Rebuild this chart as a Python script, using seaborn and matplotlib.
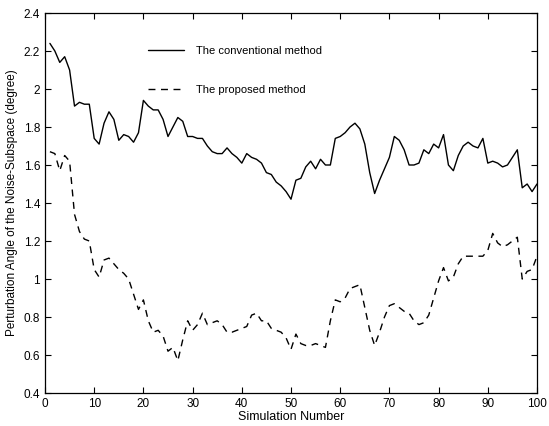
import numpy as np
import pandas as pd
import matplotlib
matplotlib.use("Agg")
import matplotlib.pyplot as plt
import seaborn as sns
from matplotlib.ticker import FuncFormatter

sim = list(range(1, 101))
conventional = [2.24, 2.20, 2.14, 2.17, 2.10, 1.91, 1.93, 1.92, 1.92, 1.74,
                1.71, 1.82, 1.88, 1.84, 1.73, 1.76, 1.75, 1.72, 1.77, 1.94,
                1.91, 1.89, 1.89, 1.84, 1.75, 1.80, 1.85, 1.83, 1.75, 1.75,
                1.74, 1.74, 1.70, 1.67, 1.66, 1.66, 1.69, 1.66, 1.64, 1.61,
                1.66, 1.64, 1.63, 1.61, 1.56, 1.55, 1.51, 1.49, 1.46, 1.42,
                1.52, 1.53, 1.59, 1.62, 1.58, 1.63, 1.60, 1.60, 1.74, 1.75,
                1.77, 1.80, 1.82, 1.79, 1.71, 1.56, 1.45, 1.52, 1.58, 1.64,
                1.75, 1.73, 1.68, 1.60, 1.60, 1.61, 1.68, 1.66, 1.71, 1.69,
                1.76, 1.60, 1.57, 1.65, 1.70, 1.72, 1.70, 1.69, 1.74, 1.61,
                1.62, 1.61, 1.59, 1.60, 1.64, 1.68, 1.48, 1.50, 1.46, 1.50]
proposed = [1.67, 1.66, 1.57, 1.65, 1.62, 1.34, 1.25, 1.21, 1.20, 1.05,
            1.01, 1.10, 1.11, 1.08, 1.05, 1.03, 1.00, 0.92, 0.84, 0.89,
            0.78, 0.72, 0.73, 0.70, 0.62, 0.64, 0.57, 0.68, 0.78, 0.73,
            0.76, 0.82, 0.76, 0.77, 0.78, 0.76, 0.72, 0.72, 0.73, 0.74,
            0.75, 0.81, 0.82, 0.78, 0.78, 0.74, 0.73, 0.72, 0.69, 0.63,
            0.71, 0.66, 0.65, 0.65, 0.66, 0.65, 0.64, 0.78, 0.89, 0.88,
            0.90, 0.95, 0.96, 0.97, 0.85, 0.73, 0.65, 0.72, 0.80, 0.86,
            0.87, 0.85, 0.83, 0.82, 0.78, 0.76, 0.77, 0.81, 0.90, 0.99,
            1.06, 0.99, 1.01, 1.08, 1.12, 1.12, 1.12, 1.12, 1.12, 1.15,
            1.24, 1.19, 1.17, 1.18, 1.20, 1.22, 1.00, 1.04, 1.05, 1.12]
labels = ["The conventional method", "The proposed method"]

df = pd.DataFrame({
    "Simulation Number": sim * 2,
    "angle": conventional + proposed,
    "method": [labels[0]] * len(sim) + [labels[1]] * len(sim),
})

sns.set_style("ticks")
plt.rcParams["font.family"] = ["Liberation Sans", "DejaVu Sans"]
plt.rcParams["text.color"] = "black"
plt.rcParams["axes.labelcolor"] = "black"
plt.rcParams["xtick.color"] = "black"
plt.rcParams["ytick.color"] = "black"

fig = plt.figure(figsize=(5.49, 4.26), dpi=100)
ax = fig.add_axes([45 / 549, 33 / 426, 492 / 549, 380 / 426])

sns.lineplot(data=df, x="Simulation Number", y="angle", hue="method", style="method",
             palette=["black", "black"], dashes={labels[0]: "", labels[1]: (5, 4)},
             linewidth=1.0, ax=ax)

ax.set_xlim(0, 100)
ax.set_ylim(0.4, 2.4)
ax.set_xticks(range(0, 101, 10))
ax.set_yticks(np.arange(0.4, 2.41, 0.2))
ax.yaxis.set_major_formatter(FuncFormatter(lambda v, p: f"{v:g}"))
ax.tick_params(direction="in", top=True, right=True, labelsize=8.5, length=4, width=0.8)
for s in ax.spines.values():
    s.set_linewidth(0.9)
    s.set_color("black")
ax.set_xlabel("Simulation Number", fontsize=9, labelpad=1)
ax.set_ylabel("Perturbation Angle of the Noise-Subspace (degree)", fontsize=8.5, labelpad=4)

leg = ax.legend(frameon=False, loc="upper left", bbox_to_anchor=(0.19, 0.94),
                fontsize=8, handlelength=3.2, handletextpad=1.1, labelspacing=2.6)

fig.savefig("out.png", dpi=100)
